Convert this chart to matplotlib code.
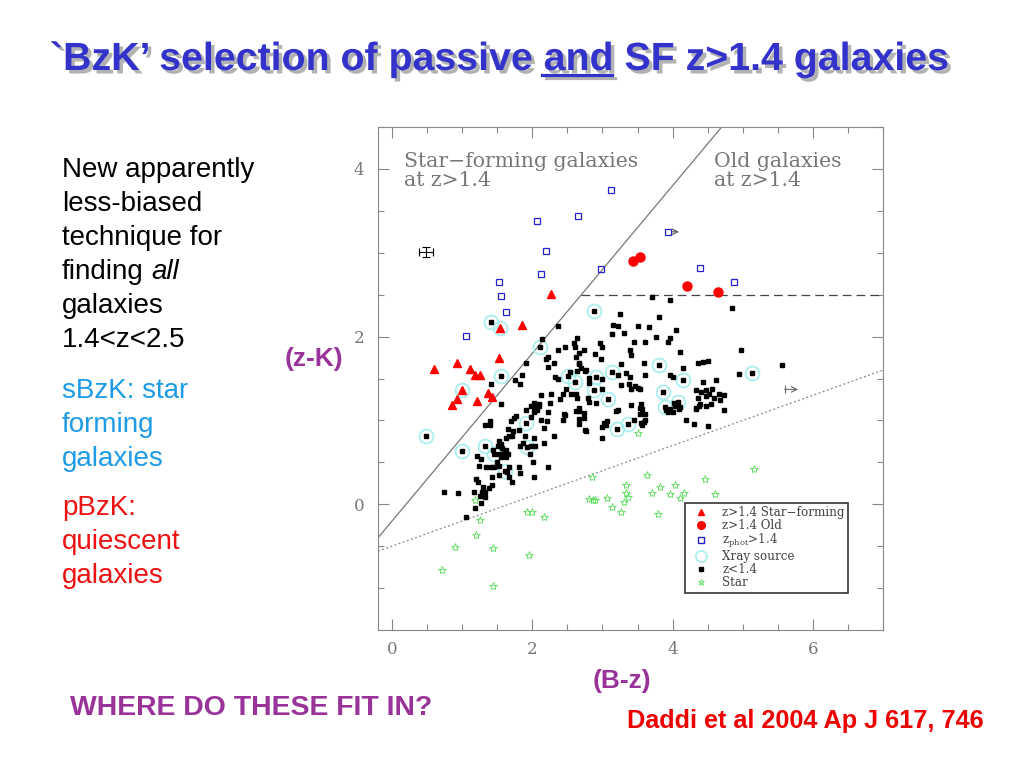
import matplotlib
matplotlib.use("Agg")
import matplotlib.pyplot as plt
import matplotlib.patheffects as pe
from matplotlib.lines import Line2D
import numpy as np

plt.rcParams['mathtext.fontset'] = 'dejavuserif'

# ---- data: (B-z, z-K) ----
sf_pts = np.array([  # z>1.4 star-forming (red triangles)
    (2.26, 2.51), (1.86, 2.14), (1.54, 2.10), (1.53, 1.75), (0.60, 1.61),
    (0.92, 1.69), (1.11, 1.61), (1.18, 1.54), (1.25, 1.54), (1.00, 1.36),
    (0.93, 1.26), (1.21, 1.23), (1.37, 1.33), (1.43, 1.28), (0.85, 1.18)])

old_pts = np.array([  # z>1.4 old (red circles)
    (3.43, 2.90), (3.54, 2.95), (4.21, 2.60), (4.65, 2.53)])

phot_pts = np.array([  # zphot>1.4 (blue open squares)
    (3.12, 3.75), (2.65, 3.44), (2.06, 3.38), (2.19, 3.02), (3.94, 3.25),
    (2.98, 2.81), (2.13, 2.75), (1.53, 2.65), (1.56, 2.48), (1.62, 2.29),
    (1.05, 2.01), (4.39, 2.82), (4.87, 2.65)])

xray_pts = np.array([  # X-ray sources (cyan circles)
    (1.41, 2.17), (1.54, 2.10), (2.11, 1.88), (2.88, 2.30), (1.56, 1.53),
    (1.00, 1.36), (2.51, 1.53), (2.61, 1.46), (2.91, 1.52), (3.14, 1.58),
    (2.88, 1.36), (3.08, 1.26), (3.81, 1.66), (4.15, 1.48), (3.86, 1.34),
    (4.08, 1.22), (3.89, 1.16), (5.13, 1.56), (0.49, 0.81), (1.00, 0.63),
    (1.33, 0.69), (1.46, 0.60), (1.91, 0.97), (1.93, 0.68), (1.61, 0.40),
    (3.21, 0.90), (3.37, 0.96)])

lowz_pts = np.array([  # z<1.4 (black squares)
    (3.71, 2.47), (3.97, 2.44), (4.84, 2.34), (3.25, 2.27), (3.81, 2.23),
    (2.37, 2.13), (3.15, 2.14), (3.22, 2.13), (3.51, 2.13), (3.67, 2.11),
    (4.05, 2.08), (3.31, 2.04), (3.13, 2.03), (2.64, 1.98), (2.14, 1.97),
    (3.77, 1.99), (3.97, 1.98), (3.93, 1.93), (3.45, 1.94), (3.60, 1.94),
    (2.59, 1.92), (2.46, 1.88), (2.61, 1.87), (2.74, 1.84), (2.36, 1.84),
    (2.97, 1.92), (3.00, 1.87), (3.39, 1.84), (3.40, 1.78), (2.66, 1.81),
    (2.89, 1.79), (4.10, 1.82), (4.97, 1.84), (2.63, 1.76), (2.22, 1.76),
    (2.19, 1.73), (2.98, 1.73), (1.91, 1.69), (2.67, 1.69), (3.26, 1.67),
    (3.59, 1.69), (4.36, 1.69), (4.43, 1.70), (4.50, 1.71), (5.56, 1.66),
    (4.15, 1.62), (2.22, 1.64), (2.66, 1.67), (2.69, 1.62), (2.76, 1.60),
    (2.31, 1.68), (1.86, 1.54), (2.33, 1.52), (2.37, 1.50), (2.81, 1.51),
    (1.76, 1.48), (1.82, 1.43), (1.41, 1.44), (2.48, 1.37), (2.44, 1.32),
    (2.55, 1.31), (2.12, 1.30), (2.02, 1.21), (2.09, 1.19), (2.25, 1.21),
    (2.64, 1.27), (2.80, 1.27), (1.56, 1.20), (2.54, 1.58), (2.64, 1.59),
    (2.75, 1.59), (2.81, 1.45), (3.00, 1.50), (2.39, 1.26), (2.26, 1.31),
    (2.62, 1.31), (2.81, 1.22), (2.91, 1.21), (2.66, 1.11), (2.62, 1.11),
    (2.73, 1.09), (3.02, 0.97), (3.06, 0.99), (2.76, 0.87), (2.99, 0.79),
    (2.45, 1.08), (3.39, 1.52), (3.33, 1.57), (3.60, 1.08), (3.56, 0.95),
    (3.59, 0.98), (3.22, 1.54), (3.60, 1.54), (3.97, 1.54), (4.01, 1.52),
    (4.43, 1.46), (4.62, 1.48), (4.94, 1.55), (3.38, 1.44), (3.46, 1.41),
    (3.41, 1.37), (3.50, 1.39), (3.53, 1.37), (3.26, 1.42), (4.34, 1.36),
    (4.41, 1.34), (4.47, 1.36), (4.52, 1.31), (4.56, 1.38), (4.36, 1.27),
    (4.47, 1.29), (4.59, 1.27), (4.66, 1.31), (4.74, 1.30), (4.67, 1.24),
    (4.39, 1.20), (4.48, 1.17), (4.55, 1.19), (4.33, 1.15), (4.02, 1.21),
    (4.05, 1.18), (4.10, 1.16), (4.04, 1.17), (3.55, 1.20), (3.54, 1.15),
    (3.41, 1.18), (3.00, 1.37), (3.19, 1.11), (3.22, 1.13), (3.05, 0.94),
    (3.00, 0.92), (3.45, 1.00), (3.55, 0.97), (3.61, 1.00), (3.53, 1.08),
    (3.56, 1.14), (3.90, 1.13), (3.93, 1.10), (3.97, 1.14), (4.00, 1.10),
    (4.09, 1.14), (4.19, 1.01), (4.30, 0.96), (4.34, 1.14), (4.37, 1.17),
    (4.50, 0.93), (4.74, 1.12), (1.32, 0.94), (1.39, 0.95), (1.39, 0.99),
    (1.65, 0.90), (1.74, 1.03), (1.70, 0.99), (1.77, 1.05), (1.81, 0.89),
    (1.98, 1.04), (2.03, 1.10), (2.06, 1.13), (2.03, 1.16), (2.09, 1.17),
    (1.91, 1.12), (1.98, 1.17), (2.13, 1.00), (2.21, 0.99), (2.17, 0.91),
    (2.23, 1.10), (2.44, 1.01), (2.46, 1.07), (2.67, 1.15), (2.66, 1.02),
    (2.73, 1.03), (2.67, 0.96), (2.75, 0.89), (2.31, 0.82), (2.16, 0.73),
    (1.73, 0.87), (1.71, 0.81), (1.90, 0.81), (1.87, 0.73), (2.02, 0.79),
    (1.82, 0.69), (1.98, 0.69), (1.96, 0.60), (2.04, 0.69), (1.52, 0.75),
    (1.56, 0.72), (1.51, 0.70), (1.57, 0.67), (1.63, 0.65), (1.60, 0.62),
    (1.66, 0.60), (1.52, 0.60), (1.56, 0.56), (1.62, 0.56), (1.44, 0.65),
    (1.63, 0.79), (1.67, 0.81), (1.21, 0.58), (1.27, 0.54), (1.81, 0.44),
    (1.82, 0.37), (2.02, 0.33), (2.23, 0.45), (2.01, 0.50), (1.24, 0.46),
    (1.34, 0.44), (1.41, 0.44), (1.45, 0.44), (1.53, 0.46), (1.49, 0.50),
    (1.67, 0.44), (1.64, 0.38), (1.42, 0.33), (1.52, 0.35), (1.67, 0.32),
    (1.71, 0.27), (1.20, 0.30), (1.23, 0.26), (1.29, 0.21), (1.43, 0.23),
    (1.38, 0.19), (1.33, 0.15), (1.28, 0.15), (1.25, 0.10), (1.33, 0.09),
    (1.17, 0.15), (1.27, 0.02), (1.19, -0.05), (1.05, -0.15), (0.74, 0.15),
    (0.94, 0.13),
    # black points sitting inside the X-ray circles
    (1.41, 2.17), (2.11, 1.88), (2.88, 2.30), (1.56, 1.53), (2.51, 1.53),
    (2.61, 1.46), (2.91, 1.52), (3.14, 1.58), (2.88, 1.36), (3.08, 1.26),
    (3.81, 1.66), (4.15, 1.48), (3.86, 1.34), (4.08, 1.22), (3.89, 1.16),
    (5.13, 1.56), (0.49, 0.81), (1.00, 0.63), (1.33, 0.69), (1.46, 0.60),
    (1.91, 0.97), (1.93, 0.68), (1.61, 0.40), (3.21, 0.90), (3.37, 0.96)])

star_pts = np.array([  # stars (green)
    (5.16, 0.42), (3.64, 0.35), (2.85, 0.32), (3.33, 0.23), (4.46, 0.30),
    (3.82, 0.21), (4.04, 0.23), (3.71, 0.14), (3.96, 0.12), (4.16, 0.13),
    (4.11, 0.07), (4.61, 0.12), (3.34, 0.13), (3.37, 0.09), (3.31, 0.03),
    (2.81, 0.06), (2.86, 0.05), (2.90, 0.05), (3.06, 0.08), (3.14, -0.03),
    (3.26, -0.09), (3.79, -0.12), (1.93, -0.09), (1.99, -0.09), (2.16, -0.15),
    (1.18, 0.05), (1.26, -0.19), (1.20, -0.37), (0.90, -0.51), (1.44, -0.52),
    (1.95, -0.60), (0.71, -0.78), (1.44, -0.98), (3.50, 0.85)])

limit_pts = np.array([(5.60, 1.37)])   # lower limit in (B-z)
errbar_pt = (0.49, 3.01)
errbar_size = (0.10, 0.06)

W, H = 1024, 768


def fx(px):
    return px / W


def fy(py):
    return 1 - py / H


fig = plt.figure(figsize=(W / 100, H / 100), dpi=100)
fig.patch.set_facecolor('white')

ax = fig.add_axes([fx(378), fy(630), 505 / W, 503 / H])
ax.set_xlim(-0.2, 7.0)
ax.set_ylim(-1.5, 4.5)

# selection lines
xs = np.array([-0.2, 4.7])
ax.plot(xs, xs - 0.2, color='#777777', lw=0.9)
ax.plot([2.7, 7.0], [2.5, 2.5], color='#444444', lw=0.9, dashes=(7, 4))
xd = np.array([-0.2, 7.0])
ax.plot(xd, 0.3 * xd - 0.5, color='#888888', lw=0.9, ls=(0, (1.5, 2)))

# points
ax.plot(xray_pts[:, 0], xray_pts[:, 1], 'o', ms=10, mfc='none', mec='#aaeeee', mew=1.3)
ax.plot(lowz_pts[:, 0], lowz_pts[:, 1], 's', ms=2.8, color='black')
ax.plot(star_pts[:, 0], star_pts[:, 1], '*', ms=6, mfc='none', mec='#55dd55', mew=0.6)
ax.plot(phot_pts[:, 0], phot_pts[:, 1], 's', ms=5, mfc='none', mec='#2222cc', mew=0.9)
ax.plot(sf_pts[:, 0], sf_pts[:, 1], '^', ms=5.5, color='red', mec='red')
ax.plot(old_pts[:, 0], old_pts[:, 1], 'o', ms=6.5, color='red', mec='red')
ax.errorbar([errbar_pt[0]], [errbar_pt[1]], xerr=errbar_size[0], yerr=errbar_size[1],
            fmt='none', ecolor='black', elinewidth=0.8, capsize=3, capthick=0.8)

# limit arrows
ax.annotate('', xy=(phot_pts[4, 0] + 0.15, phot_pts[4, 1]), xytext=(phot_pts[4, 0] + 0.05, phot_pts[4, 1]),
            arrowprops=dict(arrowstyle='->', color='#555555', lw=0.8, shrinkA=0, shrinkB=0))
ax.plot(limit_pts[:, 0], limit_pts[:, 1], '|', ms=6, color='#666666', mew=0.8)
ax.annotate('', xy=(limit_pts[0, 0] + 0.19, limit_pts[0, 1]), xytext=(limit_pts[0, 0], limit_pts[0, 1]),
            arrowprops=dict(arrowstyle='->', color='#666666', lw=0.8, shrinkA=0, shrinkB=0))

# in-plot labels
ax.text(0.17, 4.20, 'Star\u2212forming galaxies\nat z>1.4', family='DejaVu Serif', fontsize=14.7,
        color='#777777', va='top', ha='left', linespacing=1.02)
ax.text(4.59, 4.20, 'Old galaxies\nat z>1.4', family='DejaVu Serif', fontsize=14.7,
        color='#777777', va='top', ha='left', linespacing=1.02)

# axes styling
for s in ax.spines.values():
    s.set_color('#888888')
    s.set_linewidth(0.8)
ax.set_xticks([0, 2, 4, 6])
ax.set_yticks([0, 2, 4])
ax.set_xticks(np.arange(0, 7.01, 0.5), minor=True)
ax.set_yticks(np.arange(-1.5, 4.51, 0.5), minor=True)
ax.tick_params(which='both', direction='in', top=True, right=True, color='#888888', width=0.8)
ax.tick_params(which='major', length=8)
ax.tick_params(which='minor', length=4)
ax.tick_params(axis='x', pad=8)
ax.tick_params(axis='y', pad=10)
for lab in ax.get_xticklabels() + ax.get_yticklabels():
    lab.set_family('DejaVu Serif')
    lab.set_fontsize(12)
    lab.set_color('#777777')

handles = [
    Line2D([], [], marker='^', ls='none', color='red', ms=4.5),
    Line2D([], [], marker='o', ls='none', color='red', ms=5.5),
    Line2D([], [], marker='s', ls='none', mfc='none', mec='#2222cc', ms=5),
    Line2D([], [], marker='o', ls='none', mfc='none', mec='#aaeeee', ms=8, mew=1.3),
    Line2D([], [], marker='s', ls='none', color='black', ms=2.8),
    Line2D([], [], marker='*', ls='none', mfc='none', mec='#55dd55', ms=5, mew=0.6),
]
labels = ['z>1.4 Star\u2212forming', 'z>1.4 Old', r'z$_{\rm phot}$>1.4',
          'Xray source', 'z<1.4', 'Star']
leg = ax.legend(handles, labels, loc='lower right', bbox_to_anchor=(0.931, 0.074),
                borderaxespad=0, prop={'family': 'DejaVu Serif', 'size': 8.6},
                labelspacing=0.0, handletextpad=0.8, handlelength=2.0, borderpad=0.3,
                fancybox=False, framealpha=1, labelcolor='#444444')
leg.get_frame().set_edgecolor('#333333')
leg.get_frame().set_linewidth(1.2)

# ---- slide text ----
sans = 'Liberation Sans'
title_pre = '`BzK\u2019 selection of passive '
title_and = 'and'
title = title_pre + title_and + ' SF z>1.4 galaxies'
tprops = dict(fontsize=28.3, fontweight='bold', family=sans, va='baseline', ha='left')
shadow = [pe.SimplePatchShadow(offset=(2.5, -2.5), shadow_rgbFace='#aaaaaa', alpha=0.9), pe.Normal()]
fig.text(fx(50), fy(70), title, color='#3333cc', path_effects=shadow, **tprops)

renderer = fig.canvas.get_renderer()


def text_width(s, **kw):
    t = fig.text(0, 0, s, alpha=0, **kw)
    w = t.get_window_extent(renderer).width
    t.remove()
    return w


w_to_and = text_width(title_pre + title_and, **tprops)
w_and = text_width(title_and, **tprops)
x_end = 50 + w_to_and
x_start = x_end - w_and
fig.add_artist(Line2D([fx(x_start), fx(x_end)], [fy(75), fy(75)], transform=fig.transFigure,
                      color='#3333cc', lw=2.3, path_effects=[
                          pe.SimpleLineShadow(offset=(2.5, -2.5), shadow_color='#aaaaaa', alpha=0.9),
                          pe.Normal()]))

body = dict(fontsize=20, family=sans, va='baseline', ha='left')
black_lines = ['New apparently', 'less-biased', 'technique for', 'finding', 'galaxies', '1.4<z<2.5']
for i, line in enumerate(black_lines):
    fig.text(fx(62), fy(177 + 34 * i), line, color='black', **body)
w_find = text_width('finding x', **body) - text_width('x', **body)
fig.text(fx(62 + w_find), fy(177 + 34 * 3), 'all', color='black', style='italic', **body)

for i, line in enumerate(['sBzK: star', 'forming', 'galaxies']):
    fig.text(fx(62), fy(398 + 34 * i), line, color='#1e9be6', **body)
for i, line in enumerate(['pBzK:', 'quiescent', 'galaxies']):
    fig.text(fx(62), fy(515 + 34 * i), line, color='#ee1111', **body)

purple = '#993399'
fig.text(fx(314), fy(366), '(z-K)', color=purple, fontsize=19, fontweight='bold', family=sans,
         ha='center', va='baseline')
fig.text(fx(622), fy(688), '(B-z)', color=purple, fontsize=19, fontweight='bold', family=sans,
         ha='center', va='baseline')
fig.text(fx(70), fy(715), 'WHERE DO THESE FIT IN?', color=purple, fontsize=20.4, fontweight='bold',
         family=sans, ha='left', va='baseline')
fig.text(fx(805), fy(728), 'Daddi et al 2004 Ap J 617, 746', color='#ee0000', fontsize=18.2,
         fontweight='bold', family=sans, ha='center', va='baseline')

fig.savefig('out.png', dpi=100)
